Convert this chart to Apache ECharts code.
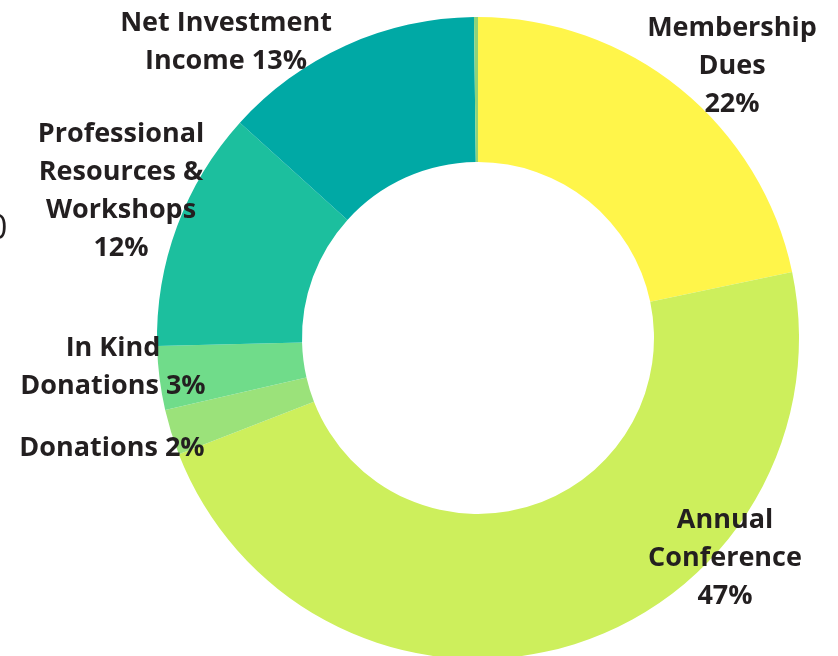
<!DOCTYPE html>
<html>
<head>
<meta charset="utf-8">
<script src="https://cdn.jsdelivr.net/npm/echarts@6/dist/echarts.min.js"></script>
<style>
html,body{margin:0;padding:0;background:#fff;}
#chart{width:838px;height:656px;}
</style>
</head>
<body>
<div id="chart"></div>
<script>
// Data (share of revenue, clockwise from 12 o'clock)
var categories = ['Membership Dues', 'Annual Conference', 'Donations', 'In Kind Donations', 'Professional Resources & Workshops', 'Net Investment Income', ''];
var labelTexts = ['Membership\nDues\n22%', 'Annual\nConference\n47%', 'Donations 2%', 'In Kind\nDonations 3%', 'Professional\nResources &\nWorkshops\n12%', 'Net Investment\nIncome 13%', ''];
var values = [21.7, 47.4, 2.3, 3.2, 12.1, 13.1, 0.2];
var colors = ['#FFF54A', '#CDEF5C', '#9BE27A', '#70DC8A', '#1CBF9E', '#00A9A5', '#8FD37A'];

// label anchor points (layout, not data)
var labelPos = [[732, 66], [725, 558], [112, 448], [113, 367], [121, 191], [226, 42], [0, -100]];

var chart = echarts.init(document.getElementById('chart'), null, {renderer: 'canvas'});
var seriesData = values.map(function (v, i) {
  return {
    name: categories[i],
    value: v,
    itemStyle: {color: colors[i]},
    label: {show: labelTexts[i] !== '', formatter: labelTexts[i]}
  };
});

chart.setOption({
  animation: false,
  backgroundColor: '#ffffff',
  series: [{
    type: 'pie',
    center: [478, 338],
    radius: [176, 321],
    startAngle: 90,
    clockwise: true,
    avoidLabelOverlap: false,
    silent: true,
    itemStyle: {borderWidth: 0},
    label: {
      show: true,
      position: 'outside',
      color: '#231F20',
      fontFamily: 'Open Sans',
      fontWeight: 'bold',
      fontSize: 27,
      lineHeight: 38,
      align: 'center'
    },
    labelLine: {show: false},
    labelLayout: function (params) {
      var p = labelPos[params.dataIndex];
      return {x: p[0], y: p[1], align: 'center', verticalAlign: 'middle', hideOverlap: false};
    },
    data: seriesData
  }],
  graphic: [{
    type: 'text',
    left: -12,
    top: 212,
    style: {text: '0', fill: '#231F20', font: '34px Open Sans'}
  }]
});
</script>
</body>
</html>
